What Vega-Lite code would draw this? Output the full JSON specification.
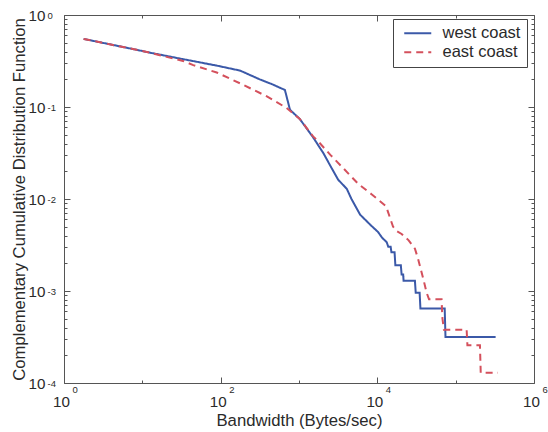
{
  "$schema": "https://vega.github.io/schema/vega-lite/v6.json",
  "width": 470,
  "height": 368,
  "autosize": {"type": "none"},
  "padding": {"left": 64, "top": 15, "right": 14, "bottom": 49},
  "background": "white",
  "config": {
    "font": "Liberation Sans",
    "view": {"stroke": "#555555", "strokeWidth": 1},
    "axis": {
      "domain": false,
      "grid": false,
      "tickColor": "#555555",
      "tickWidth": 1,
      "labelFont": "Liberation Sans",
      "labelFontSize": 15.2,
      "labelColor": "#2a2a2a",
      "labelFlush": false,
      "labelOverlap": false,
      "titleFont": "Liberation Sans",
      "titleFontSize": 16.7,
      "titleFontWeight": "normal",
      "titleColor": "#2a2a2a"
    }
  },
  "data": {
    "values": [
      {"series": "west coast", "bw": 1.78, "ccdf": 0.5495},
      {"series": "west coast", "bw": 7.59, "ccdf": 0.4266},
      {"series": "west coast", "bw": 12.6, "ccdf": 0.389},
      {"series": "west coast", "bw": 33.1, "ccdf": 0.3311},
      {"series": "west coast", "bw": 89.1, "ccdf": 0.2818},
      {"series": "west coast", "bw": 178, "ccdf": 0.2483},
      {"series": "west coast", "bw": 316, "ccdf": 0.1995},
      {"series": "west coast", "bw": 447, "ccdf": 0.1778},
      {"series": "west coast", "bw": 661, "ccdf": 0.1531},
      {"series": "west coast", "bw": 767, "ccdf": 0.0933},
      {"series": "west coast", "bw": 1023, "ccdf": 0.0741},
      {"series": "west coast", "bw": 1514, "ccdf": 0.0468},
      {"series": "west coast", "bw": 2042, "ccdf": 0.0316},
      {"series": "west coast", "bw": 2630, "ccdf": 0.0214},
      {"series": "west coast", "bw": 3162, "ccdf": 0.0162},
      {"series": "west coast", "bw": 4074, "ccdf": 0.0129},
      {"series": "west coast", "bw": 4677, "ccdf": 0.01},
      {"series": "west coast", "bw": 6026, "ccdf": 0.00676},
      {"series": "west coast", "bw": 8128, "ccdf": 0.00525},
      {"series": "west coast", "bw": 10233, "ccdf": 0.00437},
      {"series": "west coast", "bw": 11482, "ccdf": 0.0038},
      {"series": "west coast", "bw": 13183, "ccdf": 0.00339},
      {"series": "west coast", "bw": 13804, "ccdf": 0.00302},
      {"series": "west coast", "bw": 14791, "ccdf": 0.00302},
      {"series": "west coast", "bw": 15136, "ccdf": 0.00263},
      {"series": "west coast", "bw": 16596, "ccdf": 0.00263},
      {"series": "west coast", "bw": 16982, "ccdf": 0.00191},
      {"series": "west coast", "bw": 19953, "ccdf": 0.00191},
      {"series": "west coast", "bw": 20417, "ccdf": 0.00151},
      {"series": "west coast", "bw": 21380, "ccdf": 0.00151},
      {"series": "west coast", "bw": 21627, "ccdf": 0.00129},
      {"series": "west coast", "bw": 30200, "ccdf": 0.00129},
      {"series": "west coast", "bw": 30903, "ccdf": 0.000955},
      {"series": "west coast", "bw": 34674, "ccdf": 0.000955},
      {"series": "west coast", "bw": 35481, "ccdf": 0.000646},
      {"series": "west coast", "bw": 72444, "ccdf": 0.000646},
      {"series": "west coast", "bw": 74131, "ccdf": 0.000316},
      {"series": "west coast", "bw": 323594, "ccdf": 0.000316},
      {"series": "east coast", "bw": 1.78, "ccdf": 0.5495},
      {"series": "east coast", "bw": 7.59, "ccdf": 0.4266},
      {"series": "east coast", "bw": 12.6, "ccdf": 0.389},
      {"series": "east coast", "bw": 33.1, "ccdf": 0.3162},
      {"series": "east coast", "bw": 44.7, "ccdf": 0.2851},
      {"series": "east coast", "bw": 89.1, "ccdf": 0.2371},
      {"series": "east coast", "bw": 195, "ccdf": 0.1738},
      {"series": "east coast", "bw": 389, "ccdf": 0.1303},
      {"series": "east coast", "bw": 692, "ccdf": 0.0977},
      {"series": "east coast", "bw": 1023, "ccdf": 0.0741},
      {"series": "east coast", "bw": 1514, "ccdf": 0.0479},
      {"series": "east coast", "bw": 1698, "ccdf": 0.0437},
      {"series": "east coast", "bw": 2512, "ccdf": 0.0302},
      {"series": "east coast", "bw": 3715, "ccdf": 0.0214},
      {"series": "east coast", "bw": 5754, "ccdf": 0.0145},
      {"series": "east coast", "bw": 8511, "ccdf": 0.0112},
      {"series": "east coast", "bw": 12589, "ccdf": 0.00851},
      {"series": "east coast", "bw": 13183, "ccdf": 0.00794},
      {"series": "east coast", "bw": 14454, "ccdf": 0.00631},
      {"series": "east coast", "bw": 15849, "ccdf": 0.00501},
      {"series": "east coast", "bw": 17783, "ccdf": 0.00447},
      {"series": "east coast", "bw": 20417, "ccdf": 0.00417},
      {"series": "east coast", "bw": 25119, "ccdf": 0.00355},
      {"series": "east coast", "bw": 30200, "ccdf": 0.00288},
      {"series": "east coast", "bw": 33113, "ccdf": 0.00224},
      {"series": "east coast", "bw": 38905, "ccdf": 0.00132},
      {"series": "east coast", "bw": 42658, "ccdf": 0.000955},
      {"series": "east coast", "bw": 45709, "ccdf": 0.000813},
      {"series": "east coast", "bw": 66069, "ccdf": 0.000813},
      {"series": "east coast", "bw": 67608, "ccdf": 0.000513},
      {"series": "east coast", "bw": 70795, "ccdf": 0.00038},
      {"series": "east coast", "bw": 138038, "ccdf": 0.00038},
      {"series": "east coast", "bw": 141254, "ccdf": 0.000257},
      {"series": "east coast", "bw": 204174, "ccdf": 0.000257},
      {"series": "east coast", "bw": 208930, "ccdf": 0.000129},
      {"series": "east coast", "bw": 346737, "ccdf": 0.000129}
    ]
  },
  "layer": [
    {
      "mark": {"type": "line", "strokeWidth": 2, "clip": true},
      "encoding": {
        "x": {
          "field": "bw",
          "type": "quantitative",
          "scale": {"type": "log", "domain": [1, 1000000], "nice": false},
          "axis": {
            "orient": "bottom",
            "title": "Bandwidth (Bytes/sec)",
            "titlePadding": 0,
            "values": [1, 10, 100, 1000, 10000, 100000, 1000000],
            "labelExpr": "indexof([1, 100, 10000, 1000000], datum.value) >= 0 ? '10' : ''",
            "labelOffset": -3,
            "labelPadding": 17.5,
            "tickSize": {"condition": {"test": "indexof([1, 100, 10000, 1000000], datum.value) >= 0", "value": -6}, "value": -3}
          }
        },
        "y": {
          "field": "ccdf",
          "type": "quantitative",
          "scale": {"type": "log", "domain": [0.0001, 1], "nice": false},
          "axis": {
            "orient": "left",
            "title": "Complementary Cumulative Distribution Function",
            "titlePadding": 0,
            "values": [0.0001, 0.0002, 0.0003, 0.0004, 0.0005, 0.0006, 0.0007, 0.0008, 0.0009, 0.001, 0.002, 0.003, 0.004, 0.005, 0.006, 0.007, 0.008, 0.009, 0.01, 0.02, 0.03, 0.04, 0.05, 0.06, 0.07, 0.08, 0.09, 0.1, 0.2, 0.3, 0.4, 0.5, 0.6, 0.7, 0.8, 0.9, 1],
            "labelExpr": "indexof([0.0001, 0.001, 0.01, 0.1, 1], datum.value) >= 0 ? '10' : ''",
            "labelPadding": 25,
            "labelBaseline": "middle",
            "tickSize": {"condition": {"test": "indexof([0.0001, 0.001, 0.01, 0.1, 1], datum.value) >= 0", "value": -6}, "value": -3}
          }
        },
        "color": {
          "field": "series",
          "type": "nominal",
          "scale": {"domain": ["west coast", "east coast"], "range": ["#3b59a8", "#d4505c"]},
          "legend": {
            "orient": "none",
            "legendX": 329,
            "legendY": 4,
            "title": null,
            "strokeColor": "#444444",
            "fillColor": "white",
            "padding": 6,
            "symbolType": "M-0.43,0H3.43",
            "symbolSize": 196,
            "symbolStrokeWidth": 2,
            "labelFont": "Liberation Sans",
            "labelFontSize": 16.5,
            "labelColor": "#2a2a2a",
            "labelOffset": 27,
            "rowPadding": 2
          }
        },
        "strokeDash": {
          "field": "series",
          "type": "nominal",
          "scale": {"domain": ["west coast", "east coast"], "range": [[1, 0], [7, 5]]},
          "legend": {
            "orient": "none",
            "legendX": 329,
            "legendY": 4,
            "title": null,
            "strokeColor": "#444444",
            "fillColor": "white",
            "padding": 6,
            "symbolType": "M-0.43,0H3.43",
            "symbolSize": 196,
            "symbolStrokeWidth": 2,
            "labelFont": "Liberation Sans",
            "labelFontSize": 16.5,
            "labelColor": "#2a2a2a",
            "labelOffset": 27,
            "rowPadding": 2
          }
        }
      }
    },
    {
      "mark": {"type": "point", "opacity": 0},
      "encoding": {
        "x": {
          "field": "bw",
          "type": "quantitative",
          "axis": {
            "orient": "bottom",
            "title": null,
            "ticks": false,
            "values": [1, 100, 10000, 1000000],
            "labelExpr": "datum.value == 1 ? '0' : datum.value == 100 ? '2' : datum.value == 10000 ? '4' : '6'",
            "labelFontSize": 9.5,
            "labelAlign": "left",
            "labelBaseline": "top",
            "labelOffset": 8,
            "labelPadding": 1
          }
        },
        "y": {
          "field": "ccdf",
          "type": "quantitative",
          "axis": {
            "orient": "left",
            "title": null,
            "ticks": false,
            "values": [0.0001, 0.001, 0.01, 0.1, 1],
            "labelExpr": "datum.value == 1 ? '0' : datum.value == 0.1 ? '-1' : datum.value == 0.01 ? '-2' : datum.value == 0.001 ? '-3' : '-4'",
            "labelFontSize": 9.5,
            "labelAlign": "left",
            "labelBaseline": "middle",
            "labelDy": -7,
            "labelPadding": 17
          }
        }
      }
    },
    {
      "mark": {"type": "point", "opacity": 0},
      "encoding": {
        "x": {
          "field": "bw",
          "type": "quantitative",
          "axis": {
            "orient": "top",
            "title": null,
            "labels": false,
            "values": [1, 10, 100, 1000, 10000, 100000, 1000000],
            "tickSize": {"condition": {"test": "indexof([1, 100, 10000, 1000000], datum.value) >= 0", "value": -6}, "value": -3}
          }
        },
        "y": {
          "field": "ccdf",
          "type": "quantitative",
          "axis": {
            "orient": "right",
            "title": null,
            "labels": false,
            "values": [0.0001, 0.0002, 0.0003, 0.0004, 0.0005, 0.0006, 0.0007, 0.0008, 0.0009, 0.001, 0.002, 0.003, 0.004, 0.005, 0.006, 0.007, 0.008, 0.009, 0.01, 0.02, 0.03, 0.04, 0.05, 0.06, 0.07, 0.08, 0.09, 0.1, 0.2, 0.3, 0.4, 0.5, 0.6, 0.7, 0.8, 0.9, 1],
            "tickSize": {"condition": {"test": "indexof([0.0001, 0.001, 0.01, 0.1, 1], datum.value) >= 0", "value": -6}, "value": -3}
          }
        }
      }
    }
  ],
  "resolve": {"axis": {"x": "independent", "y": "independent"}}
}
